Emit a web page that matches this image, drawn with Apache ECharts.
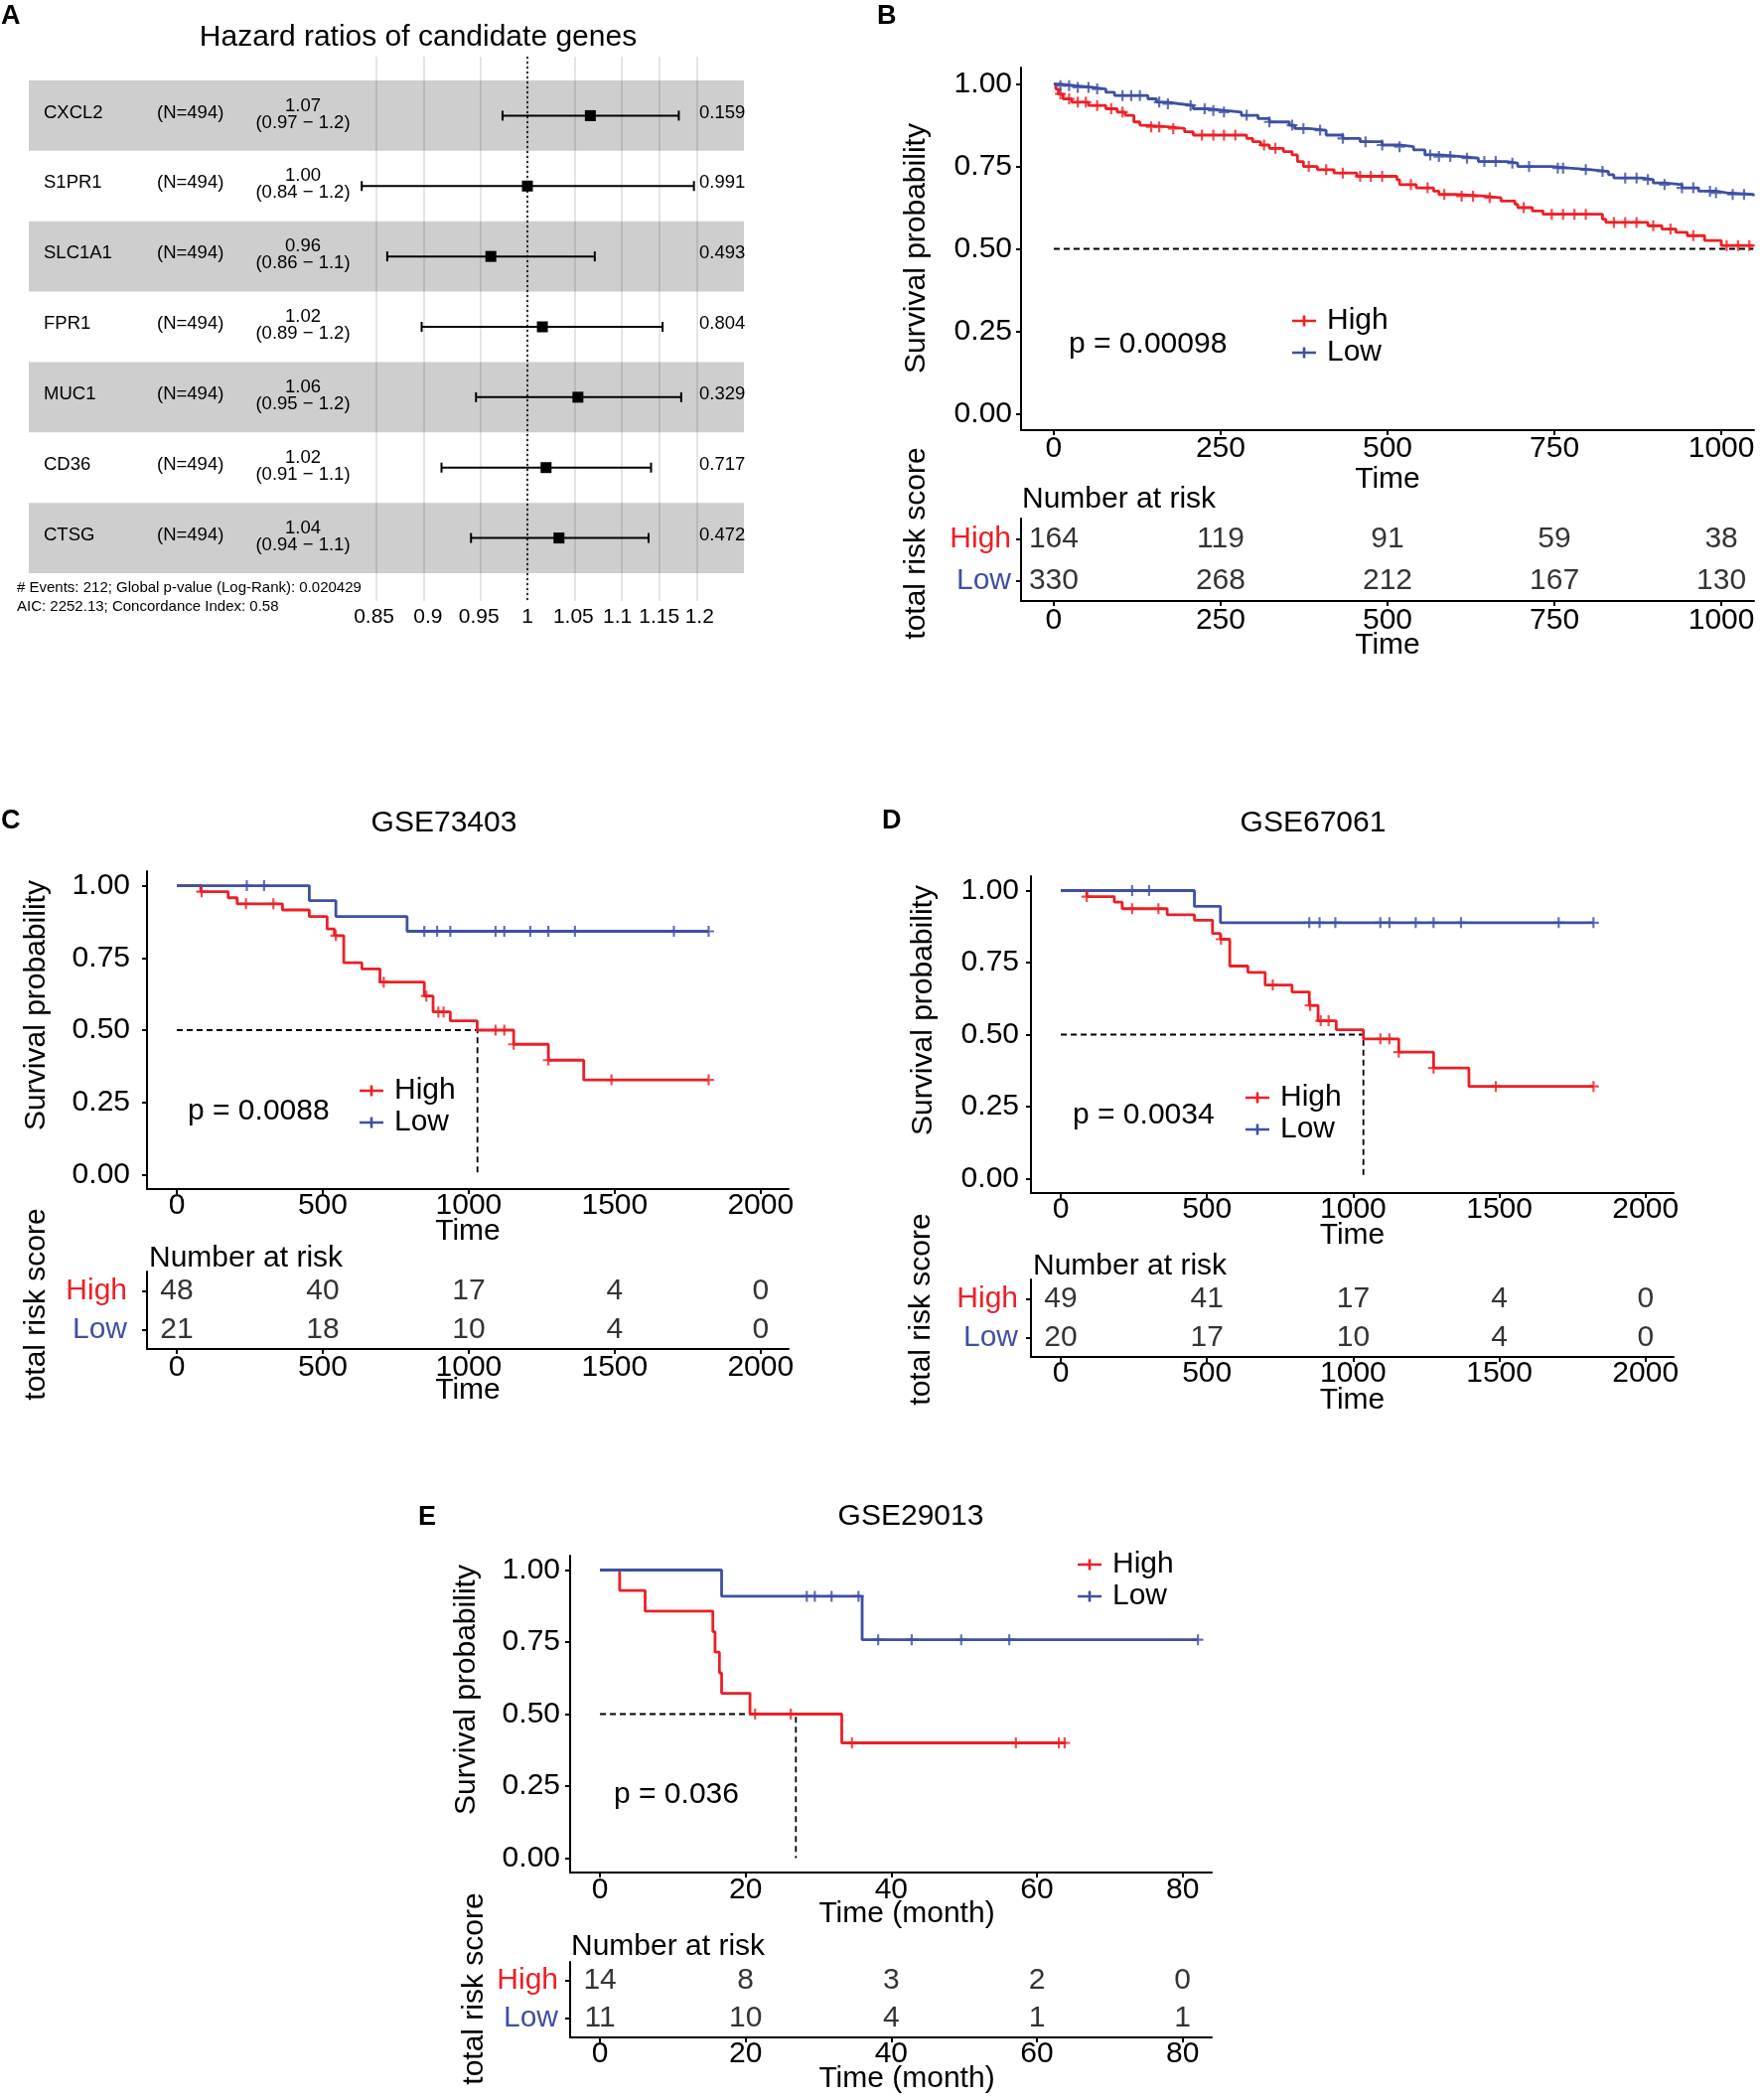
<!DOCTYPE html>
<html>
<head>
  <meta charset="utf-8">
  <title>Hazard ratios and survival curves</title>
  <script src="https://cdn.jsdelivr.net/npm/echarts@6.0.0/dist/echarts.min.js"></script>
  <style>
    html, body { margin: 0; padding: 0; background: #fff; }
    #main { width: 1772px; height: 2114px; }
  </style>
</head>
<body>
<div id="main"></div>
<script>
var RED = '#EC1F26', BLUE = '#3F4FA3';
var FONT = '"Liberation Sans", Arial, Helvetica, sans-serif';

// ---- A: forest plot
var genes = ['CXCL2', 'S1PR1', 'SLC1A1', 'FPR1', 'MUC1', 'CD36', 'CTSG'];
var geneN = [494, 494, 494, 494, 494, 494, 494];
var hrEst = [1.069, 1.000, 0.962, 1.016, 1.055, 1.020, 1.034];
var hrLow = [0.974, 0.839, 0.862, 0.894, 0.947, 0.913, 0.942];
var hrHigh = [1.174, 1.193, 1.074, 1.154, 1.177, 1.140, 1.137];
var hrLabel = ['1.07', '1.00', '0.96', '1.02', '1.06', '1.02', '1.04'];
var ciLabel = ['(0.97 \u2212 1.2)', '(0.84 \u2212 1.2)', '(0.86 \u2212 1.1)', '(0.89 \u2212 1.2)',
               '(0.95 \u2212 1.2)', '(0.91 \u2212 1.1)', '(0.94 \u2212 1.1)'];
var pLabel = ['0.159', '0.991', '0.493', '0.804', '0.329', '0.717', '0.472'];
var hrTicks = [0.85, 0.9, 0.95, 1, 1.05, 1.1, 1.15, 1.2];
var forestNote = ['# Events: 212; Global p-value (Log-Rank): 0.020429',
                  'AIC: 2252.13; Concordance Index: 0.58'];

// ---- shared
var survTicks = [0, 0.25, 0.5, 0.75, 1];
var riskGroups = ['High', 'Low'];

// ---- B: whole cohort
var bTicks = [0, 250, 500, 750, 1000];
var bHighTime = [0, 3, 7, 14, 27, 52, 78, 95, 107, 120, 129, 137, 171, 196, 209, 289, 298, 310,
  323, 344, 357, 365, 374, 395, 420, 454, 514, 518, 543, 569, 577, 602, 645, 670, 691, 695,
  717, 733, 822, 827, 890, 911, 932, 949, 975, 1000, 1048];
var bHighSurv = [1.0, 0.985, 0.97, 0.955, 0.945, 0.935, 0.925, 0.915, 0.905, 0.885, 0.875, 0.87,
  0.865, 0.855, 0.845, 0.835, 0.825, 0.815, 0.805, 0.795, 0.785, 0.765, 0.75, 0.74,
  0.73, 0.72, 0.71, 0.695, 0.685, 0.675, 0.665, 0.66, 0.655, 0.645, 0.635, 0.625,
  0.615, 0.605, 0.59, 0.58, 0.57, 0.56, 0.55, 0.54, 0.525, 0.51, 0.51];
var bLowTime = [0, 10, 31, 57, 78, 91, 141, 154, 171, 188, 209, 230, 255, 281, 306, 323, 353, 361,
  382, 408, 433, 459, 492, 518, 539, 556, 577, 611, 636, 678, 695, 746, 772, 805, 831, 839,
  882, 898, 915, 941, 966, 992, 1008, 1048];
var bLowSurv = [1.0, 0.995, 0.99, 0.985, 0.975, 0.965, 0.955, 0.945, 0.94, 0.935, 0.925, 0.92,
  0.915, 0.905, 0.895, 0.885, 0.875, 0.865, 0.86, 0.845, 0.835, 0.825, 0.815, 0.81,
  0.80, 0.785, 0.78, 0.775, 0.765, 0.76, 0.75, 0.745, 0.74, 0.735, 0.725, 0.715,
  0.71, 0.70, 0.695, 0.685, 0.675, 0.67, 0.665, 0.66];
var bHighCensor = [10, 23, 36, 48, 65, 86, 103, 146, 158, 179, 222, 239, 255, 272, 315, 332, 382,
  408, 433, 459, 475, 492, 535, 560, 585, 611, 628, 653, 704, 746, 763, 780, 797, 839, 856,
  873, 898, 924, 958, 1008, 1025, 1042];
var bLowCensor = [10, 23, 36, 52, 65, 103, 116, 129, 158, 171, 205, 226, 239, 255, 289, 323, 357,
  374, 399, 433, 467, 492, 518, 564, 577, 594, 619, 645, 662, 687, 712, 755, 763, 797, 822,
  856, 873, 890, 915, 941, 958, 983, 992, 1017, 1034];
var bRiskHigh = [164, 119, 91, 59, 38];
var bRiskLow = [330, 268, 212, 167, 130];
var bMedian = [[0, 0.5], [1048, 0.5]];

// ---- C: GSE73403
var cTicks = [0, 500, 1000, 1500, 2000];
var cHighTime = [0, 82, 176, 207, 362, 454, 515, 540, 572, 634, 696, 848, 878, 937, 1029, 1154, 1273, 1394, 1822];
var cHighSurv = [1, 0.979, 0.958, 0.937, 0.916, 0.893, 0.850, 0.827, 0.733, 0.712, 0.666, 0.618, 0.563, 0.532, 0.500, 0.451, 0.396, 0.328, 0.328];
var cLowTime = [0, 454, 545, 789, 1822];
var cLowSurv = [1, 0.948, 0.893, 0.842, 0.842];
var cHighCensor = [85, 237, 331, 545, 709, 855, 896, 914, 1092, 1122, 1154, 1273, 1489, 1822];
var cLowCensor = [240, 299, 848, 892, 937, 1092, 1122, 1211, 1273, 1364, 1703, 1822];
var cRiskHigh = [48, 40, 17, 4, 0];
var cRiskLow = [21, 18, 10, 4, 0];
var cMedian = [[0, 0.5], [1030, 0.5], [1030, 0]];

// ---- D: GSE67061
var dTicks = [0, 500, 1000, 1500, 2000];
var dHighTime = [0, 89, 183, 210, 364, 457, 519, 546, 578, 640, 699, 791, 850, 880, 942, 1035, 1156, 1275, 1396, 1822];
var dHighSurv = [1, 0.979, 0.96, 0.937, 0.916, 0.897, 0.851, 0.831, 0.738, 0.716, 0.672, 0.648, 0.601, 0.548, 0.517, 0.485, 0.439, 0.384, 0.320, 0.320];
var dLowTime = [0, 457, 546, 1822];
var dLowSurv = [1, 0.945, 0.8885, 0.8885];
var dHighCensor = [89, 244, 334, 548, 725, 853, 889, 916, 1093, 1124, 1156, 1275, 1488, 1822];
var dLowCensor = [244, 302, 850, 885, 939, 1093, 1124, 1214, 1275, 1369, 1703, 1822];
var dRiskHigh = [49, 41, 17, 4, 0];
var dRiskLow = [20, 17, 10, 4, 0];
var dMedian = [[0, 0.5], [1035, 0.5], [1035, 0]];

// ---- E: GSE29013
var eTicks = [0, 20, 40, 60, 80];
var eHighTime = [0, 2.7, 6.2, 15.5, 15.8, 16.4, 16.7, 20.6, 33.2, 64.0];
var eHighSurv = [1, 0.929, 0.857, 0.786, 0.715, 0.643, 0.572, 0.5, 0.4, 0.4];
var eLowTime = [0, 16.7, 36.0, 82.1];
var eLowSurv = [1, 0.909, 0.758, 0.758];
var eHighCensor = [21.3, 26.2, 34.6, 57.1, 63.0, 63.8];
var eLowCensor = [28.4, 29.5, 31.8, 35.5, 38.2, 42.8, 49.6, 56.2, 82.1];
var eRiskHigh = [14, 8, 3, 2, 0];
var eRiskLow = [11, 10, 4, 1, 1];
var eMedian = [[0, 0.5], [26.9, 0.5], [26.9, 0]];

var CENSOR = 'path://M4.4,0h2.2v11h-2.2z M0,4.4h11v2.2h-11z';
var LEGEND_ICON = 'path://M0,4.2h24v2.6h-24z M10.7,0h2.6v11h-2.6z';

var grid = [], xAxis = [], yAxis = [], series = [], legend = [], elements = [];

function gText(x, y, text, o) {
  o = o || {};
  var align = o.align || 'left';
  return {
    type: 'text', x: x, y: y, rotation: o.rot || 0, silent: true,
    style: {
      text: text, fill: o.color || '#000',
      font: (o.weight ? o.weight + ' ' : '') + (o.size || 30) + 'px ' + FONT,
      align: align, textAlign: align, verticalAlign: 'middle', textVerticalAlign: 'middle'
    }
  };
}

function survAt(times, surv, t) {
  var s = surv[0];
  for (var i = 0; i < times.length; i++) {
    if (times[i] <= t) s = surv[i];
  }
  return s;
}

// ---------------- forest grid (index 0)
var fMin = Math.log(0.5896), fMax = Math.log(1.2579);
grid.push({ left: 29, top: 57, width: 720, height: 548, containLabel: false, outerBoundsMode: 'none' });
xAxis.push({
  gridIndex: 0, type: 'value', min: fMin, max: fMax,
  axisLine: { show: false }, axisTick: { show: false }, splitLine: { show: false },
  axisLabel: {
    customValues: hrTicks.map(function (v) { return Math.log(v); }),
    formatter: function (v) { return String(+Math.exp(v).toFixed(2)); },
    fontSize: 21, fontFamily: FONT, color: '#000', margin: 6
  }
});
yAxis.push({ gridIndex: 0, type: 'value', inverse: true, min: 0.1613, max: 7.895, show: false });

var bands = [];
for (var r = 1; r <= genes.length; r += 2) {
  bands.push([{ xAxis: fMin, yAxis: r - 0.5 }, { xAxis: fMax, yAxis: r + 0.5 }]);
}
series.push({
  type: 'line', xAxisIndex: 0, yAxisIndex: 0, data: [], silent: true, z: 1,
  markArea: { silent: true, z: 0, itemStyle: { color: '#cecece' }, data: bands },
  markLine: {
    silent: true, z: 1, symbol: ['none', 'none'], label: { show: false },
    lineStyle: { color: 'rgba(0,0,0,0.13)', width: 1.6, type: 'solid' },
    data: hrTicks.map(function (v) { return { xAxis: Math.log(v) }; }).concat([
      { xAxis: 0, lineStyle: { color: '#000', type: [2, 3], width: 1.6 } }
    ])
  }
});
series.push({
  type: 'custom', xAxisIndex: 0, yAxisIndex: 0, z: 3, silent: true,
  data: genes.map(function (g, i) {
    return [i + 1, Math.log(hrLow[i]), Math.log(hrEst[i]), Math.log(hrHigh[i])];
  }),
  encode: { x: [1, 2, 3], y: 0 },
  renderItem: function (params, api) {
    var y = api.coord([0, api.value(0)])[1];
    var xl = api.coord([api.value(1), 0])[0];
    var xe = api.coord([api.value(2), 0])[0];
    var xh = api.coord([api.value(3), 0])[0];
    var st = { stroke: '#000', lineWidth: 2 };
    return {
      type: 'group', children: [
        { type: 'line', shape: { x1: xl, y1: y, x2: xh, y2: y }, style: st },
        { type: 'line', shape: { x1: xl, y1: y - 5, x2: xl, y2: y + 5 }, style: st },
        { type: 'line', shape: { x1: xh, y1: y - 5, x2: xh, y2: y + 5 }, style: st },
        { type: 'rect', shape: { x: xe - 5.5, y: y - 5.5, width: 11, height: 11 }, style: { fill: '#000' } }
      ]
    };
  }
});
series.push({
  type: 'custom', xAxisIndex: 0, yAxisIndex: 0, z: 4, silent: true,
  data: genes.map(function (g, i) { return [0, i + 1]; }),
  encode: { x: 0, y: 1 },
  renderItem: function (params, api) {
    var i = params.dataIndex;
    var y = api.coord([0, api.value(1)])[1];
    var x0 = params.coordSys.x;
    function t(dx, yy, s, align) {
      return {
        type: 'text',
        style: {
          x: x0 + dx, y: yy, text: s, fill: '#000', font: '18.5px ' + FONT,
          align: align, textAlign: align, verticalAlign: 'middle', textVerticalAlign: 'middle'
        }
      };
    }
    return {
      type: 'group', children: [
        t(15, y - 3, genes[i], 'left'),
        t(129, y - 3, '(N=' + geneN[i] + ')', 'left'),
        t(276, y - 10, hrLabel[i], 'center'),
        t(276, y + 7, ciLabel[i], 'center'),
        t(675, y - 3, pLabel[i], 'left')
      ]
    };
  }
});
elements.push(gText(1, 17, 'A', { size: 27, weight: 'bold' }));
elements.push(gText(421, 38, 'Hazard ratios of candidate genes', { align: 'center' }));
elements.push(gText(17, 592, forestNote[0], { size: 15 }));
elements.push(gText(17, 611, forestNote[1], { size: 15 }));

// ---------------- Kaplan-Meier panels
function axisParts(ticks) {
  var tick = { show: true, length: 5, lineStyle: { color: '#000', width: 2 } };
  if (ticks) tick.customValues = ticks;
  return {
    axisLine: { show: true, onZero: false, lineStyle: { color: '#000', width: 2 } },
    axisTick: tick,
    splitLine: { show: false }
  };
}

function kmPanel(c) {
  var gi = grid.length;
  grid.push(Object.assign({ containLabel: false, outerBoundsMode: 'none' }, c.plot));
  grid.push(Object.assign({ containLabel: false, outerBoundsMode: 'none' }, c.table));
  var nameStyle = { fontSize: 30, fontFamily: FONT, color: '#000', padding: c.namePad || 0 };
  var tickFmt = function (v) { return String(v); };

  xAxis.push(Object.assign({
    gridIndex: gi, type: 'value', min: c.xMin, max: c.xMax,
    name: c.xName, nameLocation: 'middle', nameGap: c.plotNameGap, nameMoveOverlap: false,
    nameTextStyle: nameStyle,
    axisLabel: { customValues: c.ticks, formatter: tickFmt, fontSize: 30, fontFamily: FONT, color: '#000', margin: c.plotLabelMargin }
  }, axisParts(c.ticks)));
  xAxis.push(Object.assign({
    gridIndex: gi + 1, type: 'value', min: c.xMin, max: c.xMax,
    name: c.xName, nameLocation: 'middle', nameGap: c.tableNameGap, nameMoveOverlap: false,
    nameTextStyle: nameStyle,
    axisLabel: { customValues: c.ticks, formatter: tickFmt, fontSize: 30, fontFamily: FONT, color: '#000', margin: c.tableLabelMargin }
  }, axisParts(c.ticks)));

  yAxis.push(Object.assign({
    gridIndex: gi, type: 'value', min: -0.05, max: 1.05,
    axisLabel: {
      customValues: survTicks, formatter: function (v) { return v.toFixed(2); },
      fontSize: 30, fontFamily: FONT, color: '#000', margin: c.yLabelMargin
    }
  }, axisParts(survTicks)));
  var riskY = Object.assign({
    gridIndex: gi + 1, type: 'category', data: riskGroups, inverse: true,
    axisLabel: {
      interval: 0, fontSize: 30, fontFamily: FONT, margin: c.riskLabelMargin,
      color: function (v) { return v === 'High' ? RED : BLUE; }
    }
  }, axisParts(null));
  riskY.axisTick.alignWithLabel = true;
  riskY.axisTick.interval = 0;
  yAxis.push(riskY);

  var groups = [
    { name: 'High', color: RED, time: c.highTime, surv: c.highSurv, censor: c.highCensor, risk: c.riskHigh },
    { name: 'Low', color: BLUE, time: c.lowTime, surv: c.lowSurv, censor: c.lowCensor, risk: c.riskLow }
  ];

  series.push({
    type: 'line', xAxisIndex: gi, yAxisIndex: gi, silent: true, symbol: 'none', z: 2,
    data: c.median, lineStyle: { color: '#000', width: 1.8, type: [6, 4] }
  });

  groups.forEach(function (g, k) {
    series.push({
      name: g.name, type: 'line', step: 'end', xAxisIndex: gi, yAxisIndex: gi,
      symbol: 'none', silent: true, z: 3,
      itemStyle: { color: g.color }, lineStyle: { color: g.color, width: 2.8 },
      data: g.time.map(function (t, i) { return [t, g.surv[i]]; })
    });
    series.push({
      name: g.name + ' censored', type: 'scatter', xAxisIndex: gi, yAxisIndex: gi,
      symbol: CENSOR, symbolSize: 11, silent: true, z: 4,
      itemStyle: { color: g.color },
      data: g.censor.map(function (t) { return [t, survAt(g.time, g.surv, t)]; })
    });
    series.push({
      name: g.name + ' at risk', type: 'scatter', xAxisIndex: gi + 1, yAxisIndex: gi + 1,
      symbolSize: 1, silent: true, itemStyle: { color: 'rgba(0,0,0,0)' },
      label: {
        show: true, position: 'inside', fontSize: 30, fontFamily: FONT, color: '#000',
        formatter: function (p) { return String(p.value[2]); }
      },
      data: c.ticks.map(function (t, i) { return [t, k, g.risk[i]]; })
    });
  });

  legend.push({
    data: riskGroups, orient: 'vertical', left: c.legend[0], top: c.legend[1],
    icon: LEGEND_ICON, itemWidth: 24, itemHeight: 11, itemGap: 2, selectedMode: false,
    padding: 0,
    textStyle: { fontSize: 30, fontFamily: FONT, color: '#000', lineHeight: 30, padding: [0, 0, 0, 6] }
  });

  elements.push(gText(c.letter[0], c.letter[1], c.letterText, { size: 27, weight: 'bold' }));
  if (c.title) elements.push(gText(c.title[0], c.title[1], c.titleText, { align: 'center' }));
  elements.push(gText(c.survTitle[0], c.survTitle[1], 'Survival probability', { align: 'center', rot: Math.PI / 2 }));
  elements.push(gText(c.riskTitle[0], c.riskTitle[1], 'total risk score', { align: 'center', rot: Math.PI / 2 }));
  elements.push(gText(c.nar[0], c.nar[1], 'Number at risk'));
  elements.push(gText(c.p[0], c.p[1], c.pText));
}

kmPanel({
  plot: { left: 1028, top: 68, width: 738, height: 365 },
  table: { left: 1028, top: 522, width: 738, height: 83 },
  xMin: -49, xMax: 1049, ticks: bTicks, xName: 'Time',
  plotNameGap: 35, tableNameGap: 30, plotLabelMargin: 4, tableLabelMargin: 5,
  yLabelMargin: 9, riskLabelMargin: 10,
  highTime: bHighTime, highSurv: bHighSurv, lowTime: bLowTime, lowSurv: bLowSurv,
  highCensor: bHighCensor, lowCensor: bLowCensor, riskHigh: bRiskHigh, riskLow: bRiskLow,
  median: bMedian, legend: [1301, 308],
  letter: [883, 17], letterText: 'B',
  survTitle: [923, 250], riskTitle: [923, 547], nar: [1029, 503],
  p: [1076, 347], pText: 'p = 0.00098'
});
kmPanel({
  plot: { left: 148, top: 877, width: 646, height: 320 },
  table: { left: 148, top: 1280, width: 646, height: 78 },
  xMin: -102, xMax: 2096, ticks: cTicks, xName: 'Time',
  plotNameGap: 28, tableNameGap: 27, plotLabelMargin: 2, tableLabelMargin: 4,
  yLabelMargin: 17, riskLabelMargin: 20,
  highTime: cHighTime, highSurv: cHighSurv, lowTime: cLowTime, lowSurv: cLowSurv,
  highCensor: cHighCensor, lowCensor: cLowCensor, riskHigh: cRiskHigh, riskLow: cRiskLow,
  median: cMedian, legend: [362, 1083],
  letter: [1, 827], letterText: 'C', title: [447, 829], titleText: 'GSE73403',
  survTitle: [37, 1012], riskTitle: [37, 1313], nar: [150, 1267],
  p: [189, 1119], pText: 'p = 0.0088'
});
kmPanel({
  plot: { left: 1038, top: 882, width: 647, height: 319 },
  table: { left: 1038, top: 1288, width: 647, height: 78 },
  xMin: -102, xMax: 2096, ticks: dTicks, xName: 'Time',
  plotNameGap: 28, tableNameGap: 29, plotLabelMargin: 2, tableLabelMargin: 2,
  yLabelMargin: 12, riskLabelMargin: 13,
  highTime: dHighTime, highSurv: dHighSurv, lowTime: dLowTime, lowSurv: dLowSurv,
  highCensor: dHighCensor, lowCensor: dLowCensor, riskHigh: dRiskHigh, riskLow: dRiskLow,
  median: dMedian, legend: [1254, 1090],
  letter: [888, 827], letterText: 'D', title: [1322, 829], titleText: 'GSE67061',
  survTitle: [930, 1017], riskTitle: [928, 1318], nar: [1040, 1275],
  p: [1080, 1123], pText: 'p = 0.0034'
});
kmPanel({
  plot: { left: 574, top: 1566, width: 646, height: 319 },
  table: { left: 574, top: 1975, width: 646, height: 76 },
  xMin: -4.1, xMax: 84, ticks: eTicks, xName: 'Time (month)', namePad: [0, 0, 0, 32],
  plotNameGap: 27, tableNameGap: 27, plotLabelMargin: 3, tableLabelMargin: 2,
  yLabelMargin: 10, riskLabelMargin: 12,
  highTime: eHighTime, highSurv: eHighSurv, lowTime: eLowTime, lowSurv: eLowSurv,
  highCensor: eHighCensor, lowCensor: eLowCensor, riskHigh: eRiskHigh, riskLow: eRiskLow,
  median: eMedian, legend: [1085, 1560],
  letter: [421, 1528], letterText: 'E', title: [917, 1527], titleText: 'GSE29013',
  survTitle: [470, 1701], riskTitle: [478, 2002], nar: [575, 1960],
  p: [618, 1807], pText: 'p = 0.036'
});

var myChart = echarts.init(document.getElementById('main'));
myChart.setOption({
  backgroundColor: '#fff',
  animation: false,
  textStyle: { fontFamily: FONT },
  grid: grid,
  xAxis: xAxis,
  yAxis: yAxis,
  legend: legend,
  series: series,
  graphic: { elements: elements }
});
</script>
</body>
</html>
